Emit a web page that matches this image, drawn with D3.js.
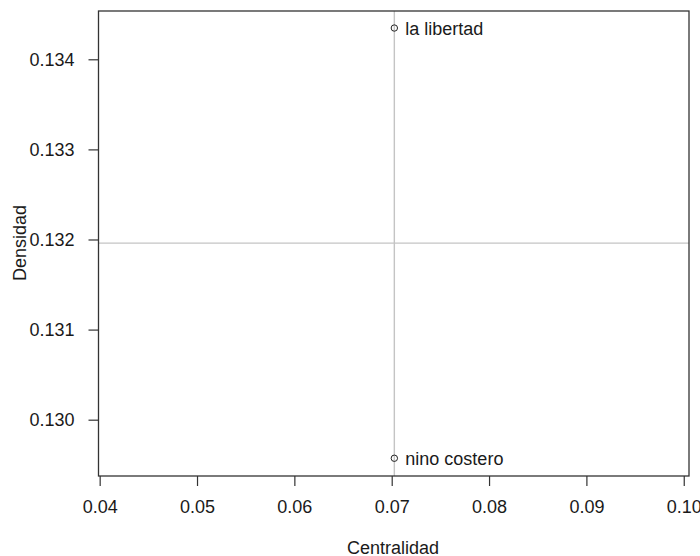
<!DOCTYPE html>
<html>
<head>
<meta charset="utf-8">
<script src="https://cdn.jsdelivr.net/npm/d3@7"></script>
<style>
  body { margin: 0; background: #fff; }
  text { font-family: "Liberation Sans", Arial, sans-serif; fill: #1a1a1a; }
</style>
</head>
<body>
<svg id="chart" width="700" height="556"></svg>
<script>
// data
const labels = ['la libertad', 'nino costero'];
const centralidad = [0.07027, 0.07027];
const densidad = [0.134347, 0.129572];
const xTicks = [0.04, 0.05, 0.06, 0.07, 0.08, 0.09, 0.10];
const yTicks = [0.130, 0.131, 0.132, 0.133, 0.134];

const box = { left: 98.5, right: 689, top: 11, bottom: 476 };

const svg = d3.select('#chart');

const x = d3.scaleLinear()
  .domain([0.03988, 0.10054])
  .range([box.left, box.right]);

const y = d3.scaleLinear()
  .domain([0.129375, 0.134536])
  .range([box.bottom, box.top]);

// reference lines at the means
const mx = d3.mean(centralidad);
const my = d3.mean(densidad);
svg.append('line')
  .attr('x1', x(mx)).attr('x2', x(mx))
  .attr('y1', box.top).attr('y2', box.bottom)
  .attr('stroke', '#c4c4c4').attr('stroke-width', 1.4);
svg.append('line')
  .attr('x1', box.left).attr('x2', box.right)
  .attr('y1', y(my)).attr('y2', y(my))
  .attr('stroke', '#c4c4c4').attr('stroke-width', 1.4);

// axes
const xAxis = svg.append('g')
  .attr('transform', `translate(0,${box.bottom})`)
  .call(d3.axisBottom(x).tickValues(xTicks).tickFormat(d3.format('.2f'))
    .tickSize(10).tickPadding(14).tickSizeOuter(0));
xAxis.select('.domain').remove();

const yAxis = svg.append('g')
  .attr('transform', `translate(${box.left},0)`)
  .call(d3.axisLeft(y).tickValues(yTicks).tickFormat(d3.format('.3f'))
    .tickSize(10).tickPadding(14).tickSizeOuter(0));
yAxis.select('.domain').remove();

svg.selectAll('.tick line').attr('stroke', '#333').attr('stroke-width', 1.2);
svg.selectAll('.tick text')
  .style('font-family', '"Liberation Sans", Arial, sans-serif')
  .style('font-size', '18px')
  .attr('fill', '#1a1a1a');

// plot box
svg.append('rect')
  .attr('x', box.left).attr('y', box.top)
  .attr('width', box.right - box.left)
  .attr('height', box.bottom - box.top)
  .attr('fill', 'none')
  .attr('stroke', '#333').attr('stroke-width', 1.3);

// points
const pts = labels.map((l, i) => ({ label: l, cx: centralidad[i], cy: densidad[i] }));

svg.selectAll('circle.pt')
  .data(pts)
  .enter()
  .append('circle')
  .attr('class', 'pt')
  .attr('cx', d => x(d.cx))
  .attr('cy', d => y(d.cy))
  .attr('r', 3.2)
  .attr('fill', 'none')
  .attr('stroke', '#222')
  .attr('stroke-width', 1);

svg.selectAll('text.lbl')
  .data(pts)
  .enter()
  .append('text')
  .attr('class', 'lbl')
  .attr('x', d => x(d.cx) + 11)
  .attr('y', d => y(d.cy))
  .attr('dy', '0.36em')
  .style('font-size', '18px')
  .text(d => d.label);

// axis titles
svg.append('text')
  .attr('x', 393)
  .attr('y', 554)
  .attr('text-anchor', 'middle')
  .style('font-size', '18px')
  .text('Centralidad');

svg.append('text')
  .attr('transform', 'translate(26,243) rotate(-90)')
  .attr('text-anchor', 'middle')
  .style('font-size', '18px')
  .text('Densidad');
</script>
</body>
</html>
